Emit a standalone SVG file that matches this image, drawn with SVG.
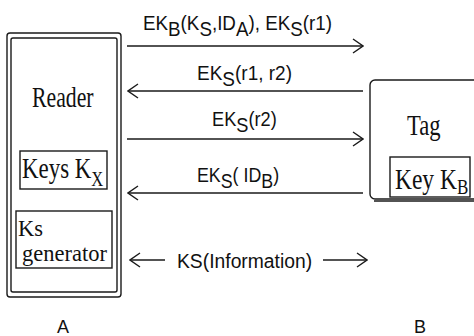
<svg xmlns="http://www.w3.org/2000/svg" width="474" height="336" viewBox="0 0 474 336">
<defs>
<style>
.box{fill:none;stroke:#1a1a1a;stroke-width:1.4}
.serif{font-family:"Liberation Serif","Times New Roman",serif;font-size:29px;fill:#111}
.sub{font-size:21px}
.sans{font-family:"Liberation Sans",Arial,sans-serif;font-size:20px;fill:#111}
.ln{fill:none;stroke:#1a1a1a;stroke-width:1.6}
</style>
<marker id="ah" viewBox="0 0 12 16" refX="11" refY="8" markerWidth="12" markerHeight="16" markerUnits="userSpaceOnUse" orient="auto-start-reverse">
<path d="M1,1 L11,8 L1,15" fill="none" stroke="#1a1a1a" stroke-width="1.4"/>
</marker>
</defs>
<rect width="474" height="336" fill="#fff"/>
<g id="reader">
<rect class="box" x="7" y="33" width="114" height="264" rx="3"/>
<rect class="box" x="11" y="38" width="106" height="254" rx="2"/>
<text class="serif" transform="translate(32,107) scale(0.75,1)">Reader</text>
</g>
<g id="keys-kx">
<rect class="box" x="20" y="151" width="87" height="38"/>
<text class="serif" transform="translate(22,178) scale(0.79,1)">Keys K<tspan class="sub" dy="8">X</tspan></text>
</g>
<g id="ks-generator">
<rect class="box" x="16" y="211" width="96" height="57"/>
<text class="serif" style="font-size:22.5px"><tspan x="18" y="236">Ks</tspan><tspan x="22" y="261">generator</tspan></text>
</g>
<g id="tag">
<rect class="box" x="370" y="80" width="114" height="119" rx="5"/>
<line class="box" x1="374" y1="201" x2="474" y2="201"/>
<text class="serif" transform="translate(407,135) scale(0.78,1)">Tag</text>
</g>
<g id="key-kb">
<rect class="box" x="390" y="157" width="80" height="40"/>
<text class="serif" transform="translate(395,189) scale(0.81,1)">Key K<tspan class="sub" dy="5">B</tspan></text>
</g>
<g id="labels-ab">
<text class="sans" x="63" y="333" text-anchor="middle" style="font-size:18px">A</text>
<text class="sans" x="420" y="333" text-anchor="middle" style="font-size:18px">B</text>
</g>
<g id="connectors">
<line class="ln" x1="127" y1="46" x2="363" y2="46" marker-end="url(#ah)"/>
<line class="ln" x1="363" y1="91" x2="128" y2="91" marker-end="url(#ah)"/>
<line class="ln" x1="127" y1="139" x2="363" y2="139" marker-end="url(#ah)"/>
<line class="ln" x1="363" y1="193" x2="128" y2="193" marker-end="url(#ah)"/>
<line class="ln" x1="165" y1="260" x2="130" y2="260" marker-end="url(#ah)"/>
<line class="ln" x1="323" y1="260" x2="367" y2="260" marker-end="url(#ah)"/>
<text class="sans" transform="translate(143,30) scale(0.94,1)">EK<tspan dy="6">B</tspan><tspan dy="-6">(K</tspan><tspan dy="6">S</tspan><tspan dy="-6">,ID</tspan><tspan dy="6">A</tspan><tspan dy="-6">), EK</tspan><tspan dy="6">S</tspan><tspan dy="-6">(r1)</tspan></text>
<text class="sans" transform="translate(197,80) scale(0.95,1)">EK<tspan dy="6">S</tspan><tspan dy="-6">(r1, r2)</tspan></text>
<text class="sans" transform="translate(212,126) scale(0.91,1)">EK<tspan dy="6">S</tspan><tspan dy="-6">(r2)</tspan></text>
<text class="sans" transform="translate(197,182) scale(0.89,1)">EK<tspan dy="6">S</tspan><tspan dy="-6">( ID</tspan><tspan dy="6">B</tspan><tspan dy="-6">)</tspan></text>
<text class="sans" style="font-size:21px" transform="translate(177,268) scale(0.92,1)">KS(Information)</text>
</g>
</svg>
